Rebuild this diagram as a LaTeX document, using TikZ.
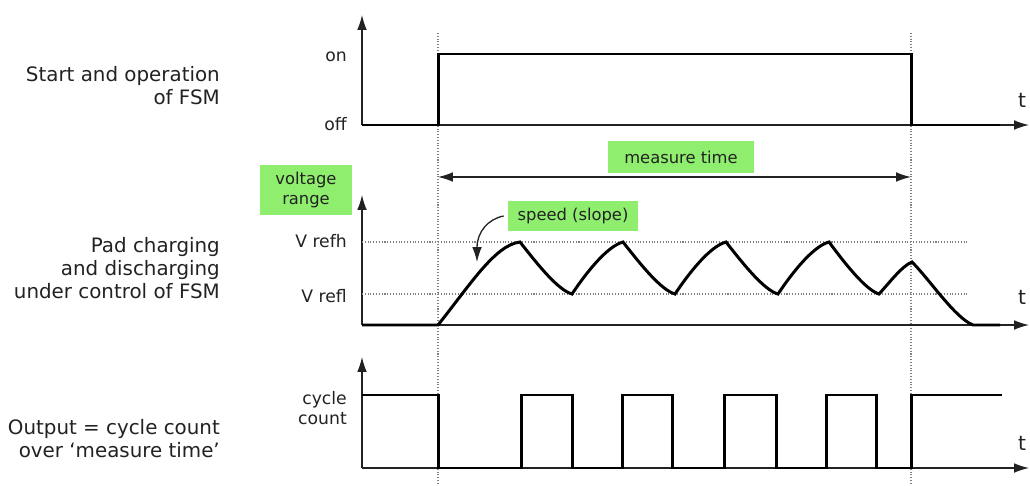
\documentclass[tikz,border=0pt]{standalone}
\usepackage{fontspec}
\setmainfont{DejaVu Sans}
\usetikzlibrary{arrows.meta}
\definecolor{tagGreen}{RGB}{144,238,110}
\definecolor{inkGray}{RGB}{34,34,34}

\begin{document}
\begin{tikzpicture}[
    x=0.02cm, y=-0.02cm,
    >={Latex[length=8.5pt,width=5.5pt]},
    axis/.style={->, line width=0.75pt, inkGray},
    signal/.style={line width=1.7pt, line join=miter},
    guide/.style={densely dotted, gray, line width=0.6pt},
    side/.style={align=right, anchor=east, text=inkGray, font=\fontsize{11.3}{13}\selectfont},
    lvl/.style={anchor=east, text=inkGray, align=right, font=\fontsize{9.8}{11.4}\selectfont},
    tag/.style={fill=tagGreen, text=inkGray, align=center, inner sep=0pt, font=\fontsize{9.3}{11.4}\selectfont},
    tlabel/.style={text=inkGray, font=\fontsize{11.5}{12}\selectfont}
]
    \useasboundingbox (0,0) rectangle (1030,486);

    % start / end of measurement
    \coordinate (S0) at (438,33);  \coordinate (S1) at (438,486);
    \coordinate (E0) at (911,33);  \coordinate (E1) at (911,486);
    \draw[guide] (S0) -- (S1);
    \draw[guide] (E0) -- (E1);

    % left captions
    \node[side] (capfsm) at (226,86) {Start and operation\\of FSM};
    \node[side] (cappad) at (226,268) {Pad charging\\and discharging\\under control of FSM};
    \node[side] (capout) at (226,439) {Output = cycle count\\over ‘measure time’};

    % FSM panel
    \draw[axis] (362,125) -- (362,15);
    \draw[axis] (362,125) -- (1029,125);
    \node[tlabel] (t1) at (1022,100) {t};
    \node[lvl] (lon) at (353,57) {on};
    \node[lvl] (loff) at (353,124) {off};
    \draw[signal] (362,125) -- (438,125) -- (438,54) -- (911,54) -- (911,125) -- (1000,125);

    % measure time
    \coordinate (M0) at (438,177);
    \coordinate (M1) at (911,177);
    \draw[<->, line width=0.75pt, inkGray] (M0) -- (M1);
    \node[tag, minimum width=2.94cm, minimum height=0.64cm] (mtime) at (681,157) {measure time};

    % pad panel
    \node[tag, minimum width=1.84cm, minimum height=1.0cm] (vrange) at (306,190) {voltage\\range};
    \draw[axis] (362,325) -- (362,195);
    \draw[axis] (362,325) -- (1029,325);
    \node[tlabel] (t2) at (1022,297) {t};
    \node[lvl] (lrefh) at (353,241) {V refh};
    \node[lvl] (lrefl) at (353,296) {V refl};
    \draw[guide] (362,242) -- (968,242);
    \draw[guide] (362,294) -- (968,294);

    \draw[signal] (362,325) -- (438,325) .. controls (470,285) and (495,245) .. (520,242)
        \foreach \p in {520,623,726} {
            .. controls ({\p+18},{265}) and ({\p+38},{290}) .. ({\p+52},294)
            .. controls ({\p+68},{270}) and ({\p+88},{246}) .. ({\p+103},242)
        }
        .. controls (846,265) and (866,290) .. (879,294)
        .. controls (890,282) and (902,266) .. (912,262)
        .. controls (930,280) and (955,318) .. (973,325) -- (1000,325);

    \node[tag, minimum width=2.6cm, minimum height=0.62cm] (speed) at (573,216) {speed (slope)};
    \coordinate (slope) at (477,262);
    \draw[->, line width=0.75pt, inkGray] (speed.west) ++(-4,0) .. controls (488,219) and (477,232) .. (slope);

    % output panel
    \draw[axis] (362,468) -- (362,357);
    \draw[axis] (362,468) -- (1029,468);
    \node[tlabel] (t3) at (1022,443) {t};
    \node[lvl] (lcount) at (353,408) {cycle\\count};
    \draw[signal] (362,395) -- (438,395) -- (438,468)
        \foreach \u/\d in {521/572,622/672,724/776,826/876} {
            -- (\u,468) -- (\u,395) -- (\d,395) -- (\d,468)
        }
        -- (911,468) -- (911,395) -- (1002,395);
\end{tikzpicture}
\end{document}
